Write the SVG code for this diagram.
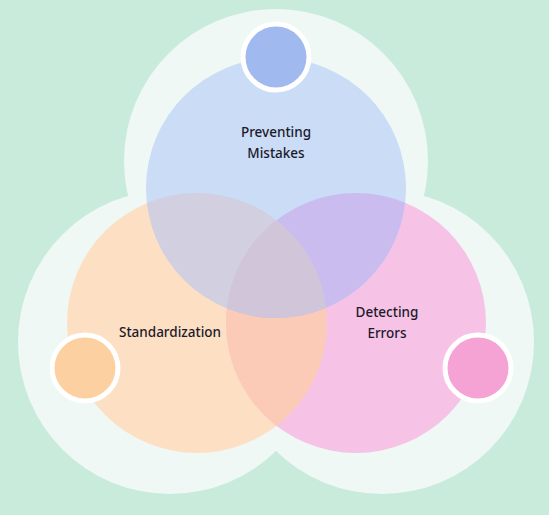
<svg xmlns="http://www.w3.org/2000/svg" width="549" height="515" viewBox="0 0 549 515">
<style>
.halo{fill:#eff8f4}
.dot{stroke:#ffffff;stroke-width:5}
.lbl{font-family:"Noto Sans",Lato,sans-serif;font-size:13.5px;font-weight:500;fill:#1c1a2a;text-anchor:middle}
</style>
<defs>
<clipPath id="cO"><circle cx="197" cy="323" r="130"/></clipPath>
<clipPath id="cP"><circle cx="356" cy="323" r="130"/></clipPath>
<clipPath id="cB"><circle cx="276" cy="188" r="130"/></clipPath>
</defs>
<rect width="549" height="515" fill="#c8ebdc"/>
<g id="halos">
<circle class="halo" cx="276" cy="161" r="152"/>
<circle class="halo" cx="170" cy="342" r="152"/>
<circle class="halo" cx="382" cy="342" r="152"/>
</g>
<g id="standardization">
<circle cx="197" cy="323" r="130" fill="#fde0c4"/>
</g>
<g id="detecting-errors">
<circle cx="356" cy="323" r="130" fill="#f6c3e6"/>
<circle cx="356" cy="323" r="130" fill="#fccbb8" clip-path="url(#cO)"/>
</g>
<g id="preventing-mistakes">
<circle cx="276" cy="188" r="130" fill="#cadcf6"/>
<circle cx="276" cy="188" r="130" fill="#d2d0e0" clip-path="url(#cO)"/>
<circle cx="276" cy="188" r="130" fill="#cbbcef" clip-path="url(#cP)"/>
<g clip-path="url(#cO)"><circle cx="276" cy="188" r="130" fill="#d1c5da" clip-path="url(#cP)"/></g>
</g>
<g id="connectors"></g>
<g id="dots">
<circle class="dot" cx="276" cy="57" r="33" fill="#a0baf0"/>
<circle class="dot" cx="85" cy="368" r="33" fill="#fdd0a2"/>
<circle class="dot" cx="478" cy="368" r="33" fill="#f5a3d5"/>
</g>
<g id="labels">
<text class="lbl" x="276" y="137">Preventing</text>
<text class="lbl" x="276" y="158">Mistakes</text>
<text class="lbl" x="170" y="337">Standardization</text>
<text class="lbl" x="387" y="317">Detecting</text>
<text class="lbl" x="387" y="338">Errors</text>
</g>
</svg>
